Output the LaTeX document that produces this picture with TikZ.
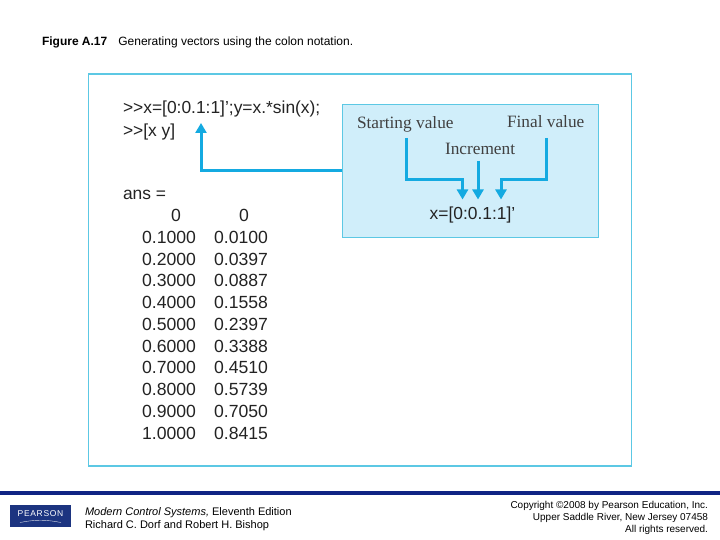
\documentclass[tikz,border=0pt]{standalone}
\usepackage{fontspec}
\setmainfont{Liberation Sans}
\newfontfamily\serifbook{Liberation Serif}
\usetikzlibrary{arrows.meta}
\definecolor{panelline}{RGB}{92,200,228}
\definecolor{callout}{RGB}{208,238,250}
\definecolor{arrowblue}{RGB}{20,170,225}
\definecolor{barblue}{RGB}{16,36,132}
\definecolor{logoblue}{RGB}{28,52,128}
\definecolor{txt}{RGB}{35,35,35}
\tikzset{
 x=1pt,y=-1pt,
 every node/.style={inner sep=0pt,outer sep=0pt},
 code/.style={anchor=base west,font=\fontsize{17.4}{19}\selectfont,text=txt},
 num/.style={anchor=base east,font=\fontsize{17.6}{19}\selectfont,text=txt},
 lab/.style={anchor=base west,font=\fontsize{17.3}{19}\selectfont\serifbook,text=black!75},
 foot/.style={font=\fontsize{11}{12}\selectfont,text=black},
 copyr/.style={anchor=base east,font=\fontsize{10}{12}\selectfont,text=black},
 arrowline/.style={draw=arrowblue,line width=3pt},
 tip/.style={arrowline,-{Triangle[length=10pt,width=11pt]}},
}
\begin{document}
\begin{tikzpicture}
\useasboundingbox (0,0) rectangle (720,540);
\fill[white] (0,0) rectangle (720,540);
\node[anchor=base west,font=\fontsize{12}{14}\selectfont] (title) at (42,46) {\textbf{Figure A.17}\hspace{11pt}Generating vectors using the colon notation.};
\draw[panelline,line width=1.3pt,fill=white] (88.5,74) rectangle (631.5,466);
\draw[panelline,line width=1pt,fill=callout] (342,104.5) rectangle (598,237.5);
\node[code] (l1) at (123,113.5) {>{}>x=[0:0.1:1]';y=x.*sin(x);};
\node[code] (l2) at (123,136.5) {>{}>[x y]};
\node[code] (ans) at (123,200) {ans =};
\node[num,anchor=base] (a0) at (176,221.5) {0};
\node[num,anchor=base] (b0) at (244,221.5) {0};
\foreach \i/\a/\b in {1/0.1000/0.0100,2/0.2000/0.0397,3/0.3000/0.0887,4/0.4000/0.1558,5/0.5000/0.2397,6/0.6000/0.3388,7/0.7000/0.4510,8/0.8000/0.5739,9/0.9000/0.7050,10/1.0000/0.8415}{
  \node[num] (a\i) at (196,{221.5+21.75*\i}) {\a};
  \node[num] (b\i) at (268,{221.5+21.75*\i}) {\b};
}
\node[lab] (start) at (357,129) {Starting value};
\node[lab] (final) at (507,128) {Final value};
\node[lab] (incr) at (445,155) {Increment};
\node[code,anchor=base] (expr) at (472.5,219.5) {x=[0:0.1:1]'};
\coordinate (s0) at (406,138);
\coordinate (s1) at (406,180);
\coordinate (s2) at (462.5,180);
\coordinate (s3) at (462.5,199.5);
\coordinate (i0) at (478,161);
\coordinate (i1) at (478,199.5);
\coordinate (f0) at (546,138);
\coordinate (f1) at (546,180);
\coordinate (f2) at (501,180);
\coordinate (f3) at (501,199.5);
\coordinate (c0) at (342,171);
\coordinate (c1) at (201,171);
\coordinate (c2) at (201,123);
\draw[tip] (s0) -- (s1) -- (s2) -- (s3);
\draw[tip] (i0) -- (i1);
\draw[tip] (f0) -- (f1) -- (f2) -- (f3);
\draw[tip] (c0) -- (c1) -- (c2);
\fill[barblue] (0,491) rectangle (720,494.5);
\fill[logoblue] (10,505) rectangle (71,527);
\node[font=\fontsize{8.5}{9}\selectfont\addfontfeature{LetterSpace=8},text=white] (logo) at (40.5,514) {PEARSON};
\draw[white!80!logoblue,line width=0.4pt] (20,522.5) .. controls (35,519.5) and (46,519.5) .. (61,522.5);
\node[foot,anchor=base west] (book) at (85,515) {\textit{Modern Control Systems,} Eleventh Edition};
\node[foot,anchor=base west] (auth) at (85,528) {Richard C. Dorf and Robert H. Bishop};
\node[copyr] (c1t) at (708,508.5) {Copyright ©2008 by Pearson Education, Inc.};
\node[copyr] (c2t) at (708,520.5) {Upper Saddle River, New Jersey 07458};
\node[copyr] (c3t) at (708,532.5) {All rights reserved.};
\end{tikzpicture}
\end{document}
